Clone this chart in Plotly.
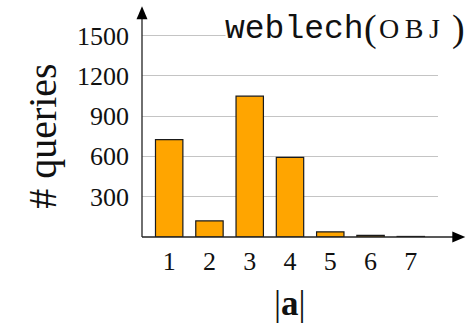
import plotly.graph_objects as go

# Number of queries by answer-tuple size |a| (weblech, OBJ)
sizes = [1, 2, 3, 4, 5, 6, 7]
queries = [725, 120, 1048, 593, 38, 12, 4]
y_ticks = [300, 600, 900, 1200, 1500]

W_FIG, H_FIG = 469, 326
L, R, T, B = 141.5, 437.7, 21.7, 236.7  # plot-area edges in pixels


def px(x):
    return (x - L) / (R - L)


def py(y):
    return (B - y) / (B - T)


fig = go.Figure(
    go.Bar(
        x=sizes,
        y=queries,
        width=0.68,
        marker=dict(color="#FFA500", line=dict(color="#1a1a1a", width=1.2)),
    )
)

serif = "Liberation Serif"

fig.update_layout(
    width=W_FIG,
    height=H_FIG,
    margin=dict(l=L, r=W_FIG - R, t=T, b=H_FIG - B),
    paper_bgcolor="white",
    plot_bgcolor="white",
    showlegend=False,
    font=dict(family=serif, size=26, color="#111"),
    xaxis=dict(
        range=[0.325, 7.675],
        tickvals=sizes,
        ticks="",
        showgrid=False,
        zeroline=False,
        showline=False,
        ticklabelstandoff=6,
        fixedrange=True,
    ),
    yaxis=dict(
        range=[0, 1600],
        tickvals=y_ticks,
        ticks="",
        showgrid=True,
        gridcolor="#c4c4c4",
        gridwidth=1,
        zeroline=False,
        showline=False,
        ticklabelstandoff=12,
        fixedrange=True,
    ),
)

axis_color = "#222"
# axis lines with arrowheads
fig.add_shape(type="line", xref="paper", yref="paper",
              x0=px(L), y0=py(B), x1=px(455), y1=py(B),
              line=dict(color=axis_color, width=1.3))
fig.add_shape(type="line", xref="paper", yref="paper",
              x0=px(L), y0=py(B), x1=px(L), y1=py(17),
              line=dict(color=axis_color, width=1.3))
fig.add_shape(type="path", xref="paper", yref="paper",
              path=f"M {px(465)} {py(B)} L {px(452)} {py(B - 5.5)} L {px(452)} {py(B + 5.5)} Z",
              fillcolor="black", line=dict(width=0))
fig.add_shape(type="path", xref="paper", yref="paper",
              path=f"M {px(L)} {py(6)} L {px(L - 5.5)} {py(19)} L {px(L + 5.5)} {py(19)} Z",
              fillcolor="black", line=dict(width=0))

# white box behind the title, hiding the top gridline
fig.add_shape(type="rect", xref="paper", yref="paper", layer="above",
              x0=px(225), x1=px(466), y0=py(10), y1=py(48),
              fillcolor="white", line=dict(width=0))


def label(x, y, text, size, family=serif, angle=0):
    fig.add_annotation(xref="paper", yref="paper", x=px(x), y=py(y),
                       xanchor="center", yanchor="middle",
                       text=text, showarrow=False, textangle=angle,
                       borderpad=0,
                       font=dict(family=family, size=size, color="#111"))


# title: typewriter name plus small-capital tag in parentheses
label(294, 29, "weblech", 33, family="Liberation Mono")
label(370, 28, "(", 38)
label(409, 28, "O\u2009B\u2009J", 28)
label(458, 28, ")", 38)

# axis titles
label(42, 136, "# queries", 40, angle=-90)
label(290, 303, "|<b>a</b>|", 35)

fig.write_html("out.html")
